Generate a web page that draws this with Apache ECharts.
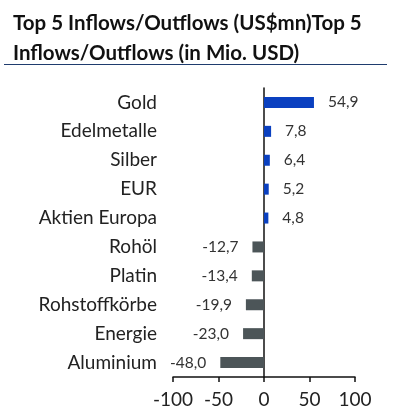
<!DOCTYPE html>
<html>
<head>
<meta charset="UTF-8">
<title>Top 5 Inflows/Outflows</title>
<script src="https://cdn.jsdelivr.net/npm/echarts@6/dist/echarts.min.js"></script>
<style>
    html,body{margin:0;padding:0;background:#fff;}
    #chart{width:406px;height:411px;}
</style>
</head>
<body>
<div id="chart"></div>
<script>
// data
var categories = ['Gold', 'Edelmetalle', 'Silber', 'EUR', 'Aktien Europa', 'Rohöl', 'Platin', 'Rohstoffkörbe', 'Energie', 'Aluminium'];
var flows = [54.9, 7.8, 6.4, 5.2, 4.8, -12.7, -13.4, -19.9, -23.0, -48.0];
var xTicks = [-100, -50, 0, 50, 100];

var font = 'Lato';

function fmt(v){
    return v.toFixed(1).replace('.', ',');
}

var myChart = echarts.init(document.getElementById('chart'));

var option = {
    animation: false,
    title: {
        text: 'Top 5 Inflows/Outflows (US$mn)Top 5\nInflows/Outflows (in Mio. USD)',
        left: 8,
        top: 3,
        textStyle: {
            fontFamily: font,
            fontWeight: 'bold',
            fontSize: 20.5,
            lineHeight: 30,
            color: '#111'
        }
    },
    graphic: [{
        type: 'line',
        shape: {x1: 4, y1: 64.5, x2: 387, y2: 64.5},
        style: {stroke: '#1f3c6e', lineWidth: 1}
    }],
    grid: {
        left: 173,
        right: 51,
        top: 88,
        bottom: 34,
        outerBoundsMode: 'none',
        containLabel: false
    },
    xAxis: {
        type: 'value',
        min: xTicks[0],
        max: xTicks[xTicks.length - 1],
        interval: 50,
        splitLine: {show: false},
        axisLine: {show: true, lineStyle: {color: '#111', width: 1.5}},
        axisTick: {show: true, length: 5, lineStyle: {color: '#111', width: 1.5}},
        axisLabel: {
            fontFamily: font,
            fontSize: 19,
            color: '#222',
            margin: 13
        }
    },
    yAxis: {
        type: 'category',
        inverse: true,
        data: categories,
        axisLine: {show: true, onZero: true, lineStyle: {color: '#111', width: 1.5}},
        axisTick: {show: false},
        axisLabel: {
            fontFamily: font,
            fontSize: 19,
            color: '#222',
            margin: 16
        }
    },
    series: [{
        type: 'bar',
        barWidth: 11,
        data: flows.map(function(v){
            return {
                value: v,
                itemStyle: {color: v >= 0 ? '#0a40c0' : '#4c5558'},
                label: {position: v >= 0 ? 'right' : 'left'}
            };
        }),
        label: {
            show: true,
            distance: 14,
            fontFamily: font,
            fontSize: 15.5,
            color: '#333',
            formatter: function(p){ return fmt(p.value); }
        }
    }]
};

myChart.setOption(option);
</script>
</body>
</html>
